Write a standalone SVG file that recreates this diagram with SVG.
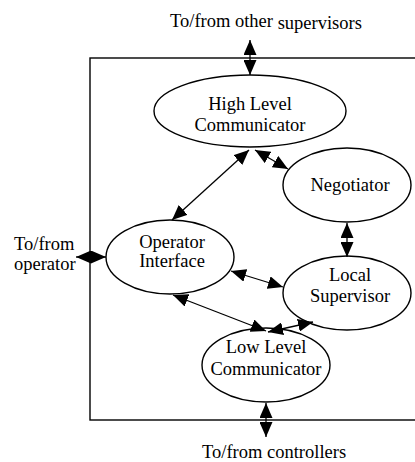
<svg xmlns="http://www.w3.org/2000/svg" width="415" height="462" viewBox="0 0 415 462">
  <defs>
    <marker id="head" markerUnits="userSpaceOnUse" markerWidth="15" markerHeight="13" refX="15" refY="6.5" orient="auto-start-reverse" viewBox="0 0 15 13">
      <path d="M0,0 L15,6.5 L0,13 z" fill="#000"/>
    </marker>
    <style>
      .frame { fill: none; stroke: #000; stroke-width: 1.4; }
      .node ellipse { fill: #fff; stroke: #000; stroke-width: 1.4; }
      text { font-family: "Liberation Serif", "Times New Roman", serif; font-size: 18.5px; fill: #000; }
      .node text { text-anchor: middle; }
      .link { fill: none; stroke: #000; stroke-width: 1.3; marker-start: url(#head); marker-end: url(#head); }
    </style>
  </defs>

  <rect width="415" height="462" fill="#fff"/>

  <!-- supervisor boundary -->
  <rect class="frame" x="90" y="58" width="340" height="362"/>

  <!-- external labels -->
  <text x="170" y="27">To/from other <tspan dy="1.5">supervisors</tspan></text>
  <text x="14" y="250">To/from</text>
  <text x="14" y="270">operator</text>
  <text x="202" y="458">To/from controllers</text>

  <g id="high-level-communicator" class="node">
    <ellipse cx="250" cy="111" rx="96" ry="36"/>
    <text x="250" y="110">High Level</text>
    <text x="250" y="131">Communicator</text>
  </g>

  <g id="negotiator" class="node">
    <ellipse cx="347" cy="185" rx="64" ry="37"/>
    <text x="350" y="191">Negotiator</text>
  </g>

  <g id="operator-interface" class="node">
    <ellipse cx="170" cy="257" rx="64" ry="37"/>
    <text x="172" y="248">Operator</text>
    <text x="172" y="267">Interface</text>
  </g>

  <g id="local-supervisor" class="node">
    <ellipse cx="347" cy="293" rx="64" ry="37"/>
    <text x="350" y="281">Local</text>
    <text x="350" y="302">Supervisor</text>
  </g>

  <g id="low-level-communicator" class="node">
    <ellipse cx="266" cy="365" rx="64" ry="37"/>
    <text x="266" y="353">Low Level</text>
    <text x="266" y="375">Communicator</text>
  </g>

  <!-- bidirectional links, drawn over the node outlines -->
  <g id="connectors">
    <line class="link" x1="250" y1="40" x2="250" y2="75"/>
    <line class="link" x1="76" y1="257" x2="106" y2="257"/>
    <line class="link" x1="266" y1="403" x2="266" y2="437"/>
    <line class="link" x1="249" y1="150" x2="172" y2="220"/>
    <line class="link" x1="255" y1="150" x2="288" y2="169"/>
    <line class="link" x1="347" y1="223" x2="347" y2="257"/>
    <line class="link" x1="231" y1="271" x2="283" y2="287"/>
    <line class="link" x1="173" y1="295" x2="266" y2="331"/>
    <line class="link" x1="268" y1="332" x2="313" y2="322"/>
  </g>
</svg>
